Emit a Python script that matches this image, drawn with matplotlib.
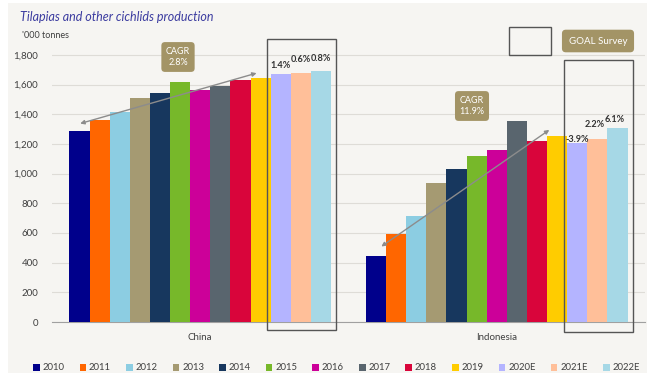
import matplotlib.pyplot as plt
from matplotlib.patches import Rectangle
import numpy as np

plt.rcParams['font.family'] = ['Lato', 'DejaVu Sans']

# data ('000 tonnes)
countries = ['China', 'Indonesia']
years = ['2010', '2011', '2012', '2013', '2014', '2015', '2016', '2017',
         '2018', '2019', '2020E', '2021E', '2022E']
china = [1288, 1360, 1412, 1507, 1543, 1616, 1562, 1588, 1628, 1646, 1669, 1679, 1692]
indonesia = [446, 594, 712, 938, 1032, 1118, 1156, 1352, 1219, 1255, 1207, 1233, 1308]
china_growth = ['1.4%', '0.6%', '0.8%']
indonesia_growth = ['-3.9%', '2.2%', '6.1%']
cagr = ['CAGR\n2.8%', 'CAGR\n11.9%']

colors = ['#00008b', '#ff6600', '#8ccde2', '#a59a72', '#17375e', '#77b82a',
          '#cc0099', '#59656e', '#d9053b', '#ffcc00', '#b4b4ff', '#ffbf99', '#a6d8e6']

bg = '#f6f5f2'
box_col = '#a39466'

fig = plt.figure(figsize=(6.47, 3.73), dpi=100)
fig.patch.set_facecolor('white')
fig.add_artist(Rectangle((8 / 647, 0), 639 / 647, 370 / 373, transform=fig.transFigure,
                         facecolor=bg, edgecolor='none', zorder=-10))

ax = fig.add_axes([52 / 647, 51 / 373, 593 / 647, 282 / 373])
ax.patch.set_alpha(0)

x = np.arange(len(countries))
w = 0.882 / len(years)
for i, yr in enumerate(years):
    vals = [china[i], indonesia[i]]
    ax.bar(x + (i - 6) * w, vals, width=w, color=colors[i], label=yr, zorder=3)

ax.set_xlim(-0.5, 1.5)
ax.set_ylim(0, 1900)
ax.set_yticks(range(0, 1801, 200))
ax.set_yticklabels([f'{v:,}' for v in range(0, 1801, 200)])
ax.set_xticks(x)
ax.set_xticklabels(countries)
ax.tick_params(axis='y', length=0, labelsize=7, colors='#404040', pad=10)
ax.tick_params(axis='x', length=0, labelsize=7, colors='#404040', pad=8)
ax.grid(axis='y', color='#dedcd7', linewidth=0.8, zorder=0)
for s in ['top', 'right', 'left']:
    ax.spines[s].set_visible(False)
ax.spines['bottom'].set_color('#a0a0a0')

# growth labels over the forecast bars
offs_c = [(0, 3), (0, 6), (0, 6)]
for k, lab in enumerate(china_growth):
    i = 10 + k
    ax.annotate(lab, (x[0] + (i - 6) * w, china[i]), xytext=offs_c[k], textcoords='offset points',
                ha='center', va='bottom', fontsize=6.6, fontweight='bold', color='#333333', zorder=5)
offs_i = [(0, -1), (-2, 7), (-2, 3)]
for k, lab in enumerate(indonesia_growth):
    i = 10 + k
    ax.annotate(lab, (x[1] + (i - 6) * w, indonesia[i]), xytext=offs_i[k], textcoords='offset points',
                ha='center', va='bottom', fontsize=6.6, fontweight='bold', color='#333333', zorder=5)

# forecast boxes
ax.add_patch(Rectangle((x[0] + 4 * w - 0.5 * w - 0.012, -55), 3 * w + 0.03, 1960,
                       fill=False, edgecolor='#555555', linewidth=1, clip_on=False, zorder=4))
ax.add_patch(Rectangle((x[1] + 4 * w - 0.5 * w - 0.012, -68), 3 * w + 0.03, 1830,
                       fill=False, edgecolor='#555555', linewidth=1, clip_on=False, zorder=4))

# CAGR arrows
arr = dict(arrowstyle='<|-|>', color='#8c8c8c', lw=1, mutation_scale=6)
ax.annotate('', xy=(0.199, 1682), xytext=(-0.414, 1332), arrowprops=arr, zorder=6)
ax.annotate('', xy=(1.185, 1305), xytext=(0.603, 498), arrowprops=arr, zorder=6)

# CAGR boxes
ax.text(178 / 647, 1 - 57 / 373, cagr[0], transform=fig.transFigure, ha='center', va='center',
        fontsize=6.5, color='white', linespacing=1.4,
        bbox=dict(boxstyle='round,pad=0.5,rounding_size=0.4', fc=box_col, ec='none'))
ax.text(472 / 647, 1 - 106 / 373, cagr[1], transform=fig.transFigure, ha='center', va='center',
        fontsize=6.5, color='white', linespacing=1.4,
        bbox=dict(boxstyle='round,pad=0.5,rounding_size=0.4', fc=box_col, ec='none'))

# legend key boxes top right
fig.add_artist(Rectangle((509 / 647, 1 - 55 / 373), 42 / 647, 28 / 373, transform=fig.transFigure,
                         fill=False, edgecolor='#555555', linewidth=1))
fig.text(598 / 647, 1 - 41 / 373, 'GOAL Survey', ha='center', va='center', fontsize=7, color='white',
         bbox=dict(boxstyle='round,pad=0.7,rounding_size=0.4', fc=box_col, ec='none'))

fig.text(20 / 647, 1 - 17 / 373, 'Tilapias and other cichlids production', fontsize=9,
         style='italic', color='#3c3ca0', va='center')
fig.text(22 / 647, 1 - 36 / 373, "'000 tonnes", fontsize=6.5, color='#404040', va='center')

leg = fig.legend(loc='center', bbox_to_anchor=(0.52, 1 - 368 / 373), ncol=13, frameon=False,
                 fontsize=6.8, handlelength=0.7, handleheight=0.7, handletextpad=0.3,
                 columnspacing=1.6)
for t in leg.get_texts():
    t.set_color('#404040')

fig.savefig('out.png', dpi=100, facecolor=fig.get_facecolor())
